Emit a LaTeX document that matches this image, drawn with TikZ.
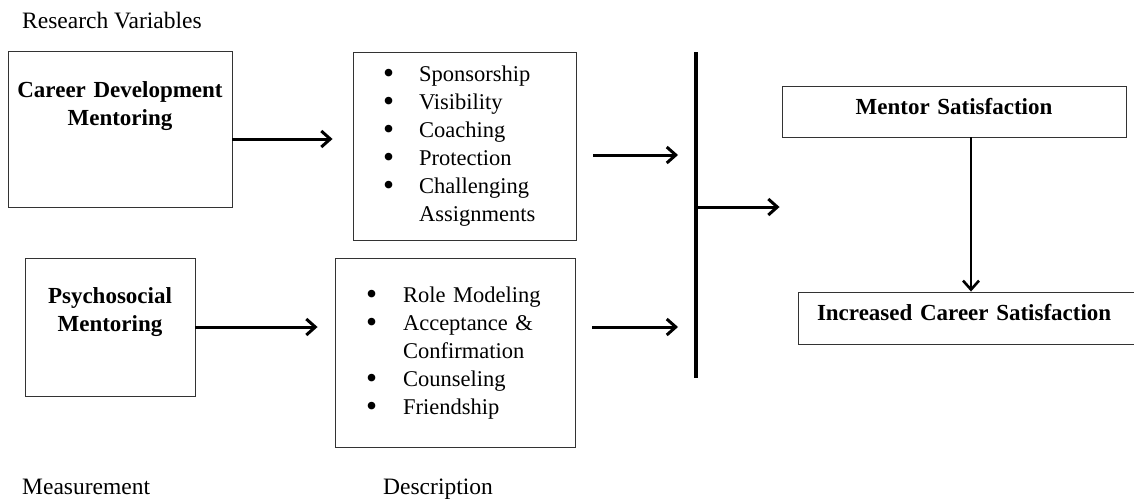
\documentclass[tikz,border=0pt]{standalone}
\usepackage{fontspec}
\setmainfont{Liberation Serif}
\usetikzlibrary{arrows.meta}

\newcommand{\itembullet}{\smash{\raisebox{-2pt}{\scalebox{1.4}{\textbullet}}}}

\begin{document}
\begin{tikzpicture}[x=1pt,y=-1pt,
           headbox/.style={draw=black!80, line width=0.9pt, inner sep=0pt, align=center,
              font=\bfseries\fontsize{23}{28}\selectfont},
           listbox/.style={draw=black!80, line width=0.9pt, inner ysep=0pt, align=left,
              font=\fontsize{22.5}{28}\selectfont},
           caption/.style={anchor=base west, inner sep=0pt, font=\fontsize{23.5}{28}\selectfont},
           link/.style={-{Straight Barb[length=9pt,width=16pt]}, line width=3pt, draw=black},
        ]
        \useasboundingbox (0,0) rectangle (1134,499);

        \node at (22,28) (research) [caption] {Research Variables};
        \node at (22,494) (measure) [caption] {Measurement};
        \node at (383,494) (descr) [caption] {Description};

        \node at (120,129) (career) [headbox, text width=224, text height=46, text depth=110] {Career Development\\Mentoring};
        \node at (110,327) (psycho) [headbox, text width=170, text height=45, text depth=93] {Psychosocial\\Mentoring};

        \node at (464.5,146) (careerlist) [listbox, text width=163, inner xsep=30, minimum height=188]
          {\begin{tabular}{@{}l@{\hspace{25pt}}l@{}}
            \itembullet & Sponsorship\\
            \itembullet & Visibility\\
            \itembullet & Coaching\\
            \itembullet & Protection\\
            \itembullet & Challenging\\
                        & Assignments
          \end{tabular}};
        \node at (455,352.5) (psycholist) [listbox, text width=178, inner xsep=31, minimum height=189]
          {\begin{tabular}{@{}l@{\hspace{26pt}}l@{}}
            \itembullet & Role Modeling\\
            \itembullet & Acceptance \&\\
                        & Confirmation\\
            \itembullet & Counseling\\
            \itembullet & Friendship
          \end{tabular}};

        \node at (954,111.5) (mentor) [headbox, text width=344, text height=28, text depth=23] {Mentor Satisfaction};
        \node at (968,318) (increased) [headbox, align=left, inner xsep=19, text width=302, text height=28, text depth=24] {Increased Career Satisfaction};

        % the joining bar
        \coordinate (bartop) at (696,52);
        \coordinate (barbot) at (696,378);
        \coordinate (hub) at (696,207);
        \coordinate (join1) at (678,155);
        \coordinate (join2) at (678,327);
        \draw[line width=4.5pt] (bartop) -- (barbot);

        \draw[link, shorten >=20pt] ([yshift=-10pt]career.east) -- ([yshift=-10pt]career.east -| careerlist.west);
        \draw[link, shorten >=17pt] (psycho.east) -- (psycho.east -| psycholist.west);
        \draw[link, shorten <=17pt] (join1 -| careerlist.east) -- (join1);
        \draw[link, shorten <=17pt] (join2 -| psycholist.east) -- (join2);
        \draw[link, shorten >=2pt] (hub) -- (hub -| mentor.west);
        \draw[link, line width=2.6pt] ([xshift=17pt]mentor.south) -- ([xshift=17pt]mentor.south |- increased.north);
     \end{tikzpicture}
\end{document}
